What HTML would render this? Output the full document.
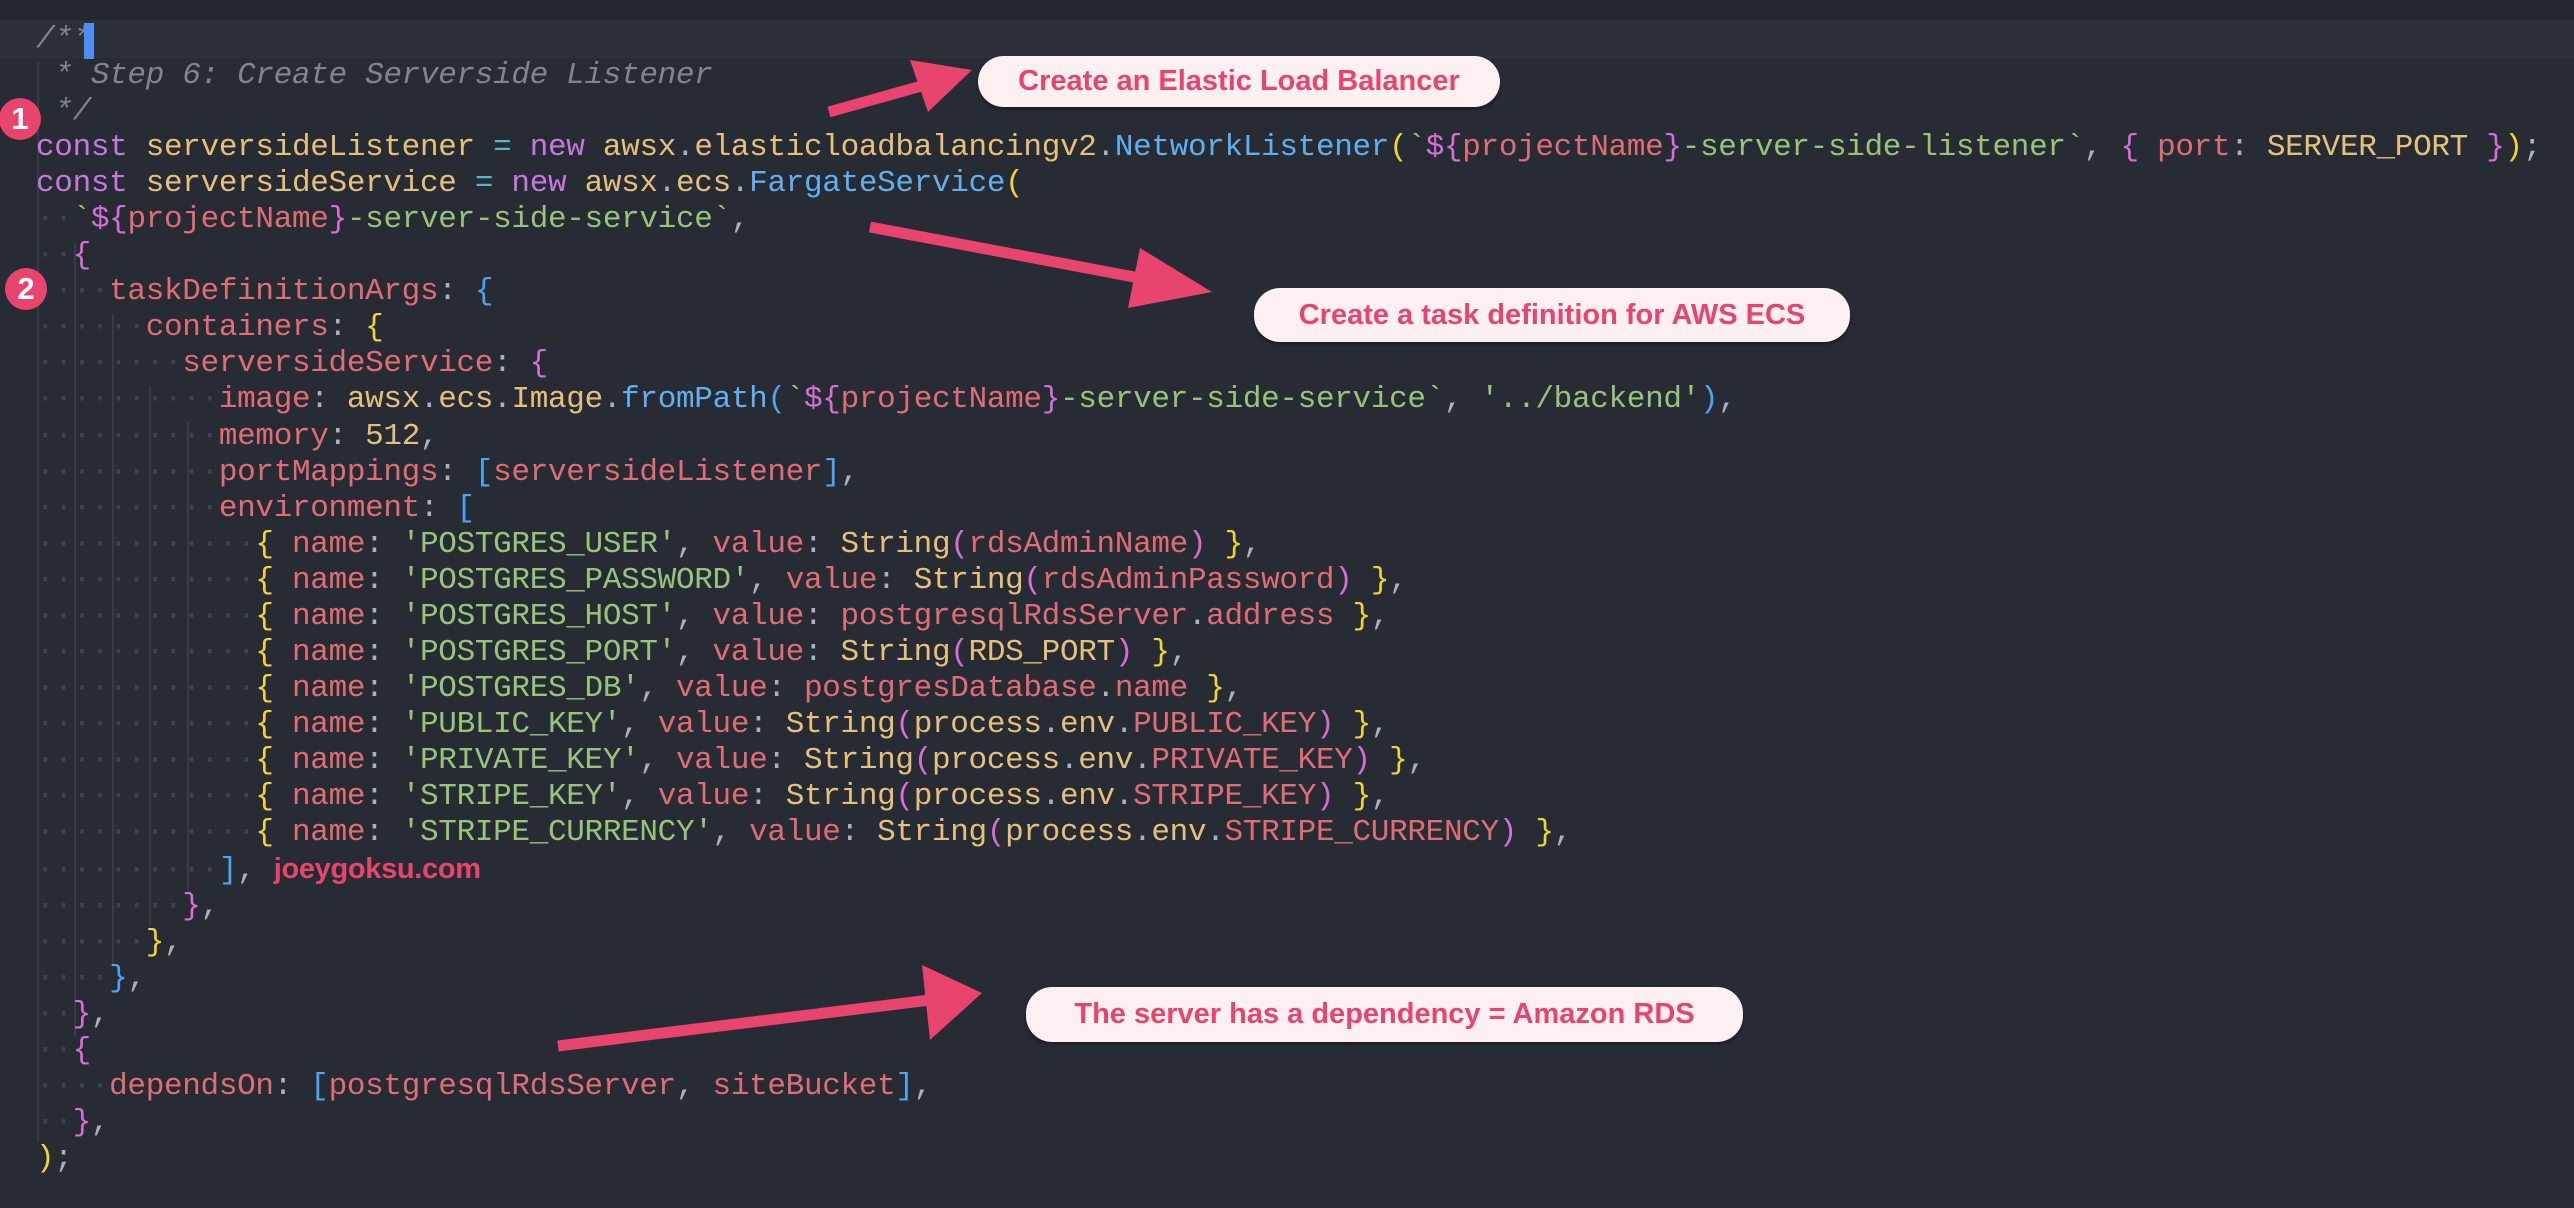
<!DOCTYPE html>
<html><head><meta charset="utf-8"><style>
html,body{margin:0;padding:0;}
body{width:2574px;height:1208px;background:#272b34;position:relative;overflow:hidden;}
.top{position:absolute;left:0;top:0;width:2574px;height:20px;background:#22262d;}
.cur{position:absolute;left:0;top:20px;width:2574px;height:38px;background:#2c3039;}
.caret{position:absolute;left:84px;top:23px;width:10px;height:36px;background:#4d8df5;}
pre{position:absolute;left:36px;top:22px;margin:0;font-family:"Liberation Mono",monospace;font-size:31px;line-height:36.05px;color:#abb2bf;letter-spacing:-0.32px;}
.k{color:#c678dd}.v{color:#e5c07b}.p{color:#e06c75}.s{color:#98c379}.f{color:#61afef}
.c{color:#7f848e;font-style:italic}.o{color:#56b6c2}.d{color:#3d424b}
.y{color:#f3d33a}.m{color:#d56fd6}.b{color:#4ea4f0}
.wm{font-family:"Liberation Sans",sans-serif;font-weight:bold;color:#e8446e;font-size:29px;}
.g{position:absolute;width:2px;background:#363b44;}
.call{position:absolute;background:#fdf0f3;border-radius:26px;color:#e8446e;font-family:"Liberation Sans",sans-serif;font-weight:bold;font-size:29px;text-align:center;box-shadow:0 2px 3px rgba(0,0,0,.4);}
.num{position:absolute;width:42px;height:42px;border-radius:50%;background:#e8446e;color:#fff;font-family:"Liberation Sans",sans-serif;font-weight:bold;font-size:31px;text-align:center;line-height:42px;}
</style></head><body>
<div class="top"></div>
<div class="cur"></div>
<div class="g" style="left:37px;top:62px;height:1080px"></div>
<div class="g" style="left:74px;top:242px;height:795px"></div>
<div class="g" style="left:112px;top:314px;height:650px"></div>
<div class="g" style="left:149px;top:386px;height:540px"></div>
<div class="g" style="left:187px;top:422px;height:470px"></div>
<pre><span class="c">/**</span>
<span class="c"> * Step 6: Create Serverside Listener</span>
<span class="c"> */</span>
<span class="k">const</span> <span class="v">serversideListener</span> <span class="o">=</span> <span class="k">new</span> <span class="v">awsx</span>.<span class="v">elasticloadbalancingv2</span>.<span class="f">NetworkListener</span><span class="y">(</span><span class="s">`</span><span class="m">${</span><span class="p">projectName</span><span class="m">}</span><span class="s">-server-side-listener`</span>, <span class="m">{</span> <span class="p">port</span>: <span class="v">SERVER_PORT</span> <span class="m">}</span><span class="y">)</span>;
<span class="k">const</span> <span class="v">serversideService</span> <span class="o">=</span> <span class="k">new</span> <span class="v">awsx</span>.<span class="v">ecs</span>.<span class="f">FargateService</span><span class="y">(</span>
<span class="d">··</span><span class="s">`</span><span class="m">${</span><span class="p">projectName</span><span class="m">}</span><span class="s">-server-side-service`</span>,
<span class="d">··</span><span class="m">{</span>
<span class="d">····</span><span class="p">taskDefinitionArgs</span>: <span class="b">{</span>
<span class="d">······</span><span class="p">containers</span>: <span class="y">{</span>
<span class="d">········</span><span class="p">serversideService</span>: <span class="m">{</span>
<span class="d">··········</span><span class="p">image</span>: <span class="v">awsx</span>.<span class="v">ecs</span>.<span class="v">Image</span>.<span class="f">fromPath</span><span class="b">(</span><span class="s">`</span><span class="m">${</span><span class="p">projectName</span><span class="m">}</span><span class="s">-server-side-service`</span>, <span class="s">'../backend'</span><span class="b">)</span>,
<span class="d">··········</span><span class="p">memory</span>: <span class="v">512</span>,
<span class="d">··········</span><span class="p">portMappings</span>: <span class="b">[</span><span class="p">serversideListener</span><span class="b">]</span>,
<span class="d">··········</span><span class="p">environment</span>: <span class="b">[</span>
<span class="d">············</span><span class="y">{</span> <span class="p">name</span>: <span class="s">'POSTGRES_USER'</span>, <span class="p">value</span>: <span class="v">String</span><span class="m">(</span><span class="p">rdsAdminName</span><span class="m">)</span> <span class="y">}</span>,
<span class="d">············</span><span class="y">{</span> <span class="p">name</span>: <span class="s">'POSTGRES_PASSWORD'</span>, <span class="p">value</span>: <span class="v">String</span><span class="m">(</span><span class="p">rdsAdminPassword</span><span class="m">)</span> <span class="y">}</span>,
<span class="d">············</span><span class="y">{</span> <span class="p">name</span>: <span class="s">'POSTGRES_HOST'</span>, <span class="p">value</span>: <span class="p">postgresqlRdsServer</span>.<span class="p">address</span> <span class="y">}</span>,
<span class="d">············</span><span class="y">{</span> <span class="p">name</span>: <span class="s">'POSTGRES_PORT'</span>, <span class="p">value</span>: <span class="v">String</span><span class="m">(</span><span class="v">RDS_PORT</span><span class="m">)</span> <span class="y">}</span>,
<span class="d">············</span><span class="y">{</span> <span class="p">name</span>: <span class="s">'POSTGRES_DB'</span>, <span class="p">value</span>: <span class="p">postgresDatabase</span>.<span class="p">name</span> <span class="y">}</span>,
<span class="d">············</span><span class="y">{</span> <span class="p">name</span>: <span class="s">'PUBLIC_KEY'</span>, <span class="p">value</span>: <span class="v">String</span><span class="m">(</span><span class="v">process</span>.<span class="v">env</span>.<span class="p">PUBLIC_KEY</span><span class="m">)</span> <span class="y">}</span>,
<span class="d">············</span><span class="y">{</span> <span class="p">name</span>: <span class="s">'PRIVATE_KEY'</span>, <span class="p">value</span>: <span class="v">String</span><span class="m">(</span><span class="v">process</span>.<span class="v">env</span>.<span class="p">PRIVATE_KEY</span><span class="m">)</span> <span class="y">}</span>,
<span class="d">············</span><span class="y">{</span> <span class="p">name</span>: <span class="s">'STRIPE_KEY'</span>, <span class="p">value</span>: <span class="v">String</span><span class="m">(</span><span class="v">process</span>.<span class="v">env</span>.<span class="p">STRIPE_KEY</span><span class="m">)</span> <span class="y">}</span>,
<span class="d">············</span><span class="y">{</span> <span class="p">name</span>: <span class="s">'STRIPE_CURRENCY'</span>, <span class="p">value</span>: <span class="v">String</span><span class="m">(</span><span class="v">process</span>.<span class="v">env</span>.<span class="p">STRIPE_CURRENCY</span><span class="m">)</span> <span class="y">}</span>,
<span class="d">··········</span><span class="b">]</span>, <span class="wm">joeygoksu.com</span>
<span class="d">········</span><span class="m">}</span>,
<span class="d">······</span><span class="y">}</span>,
<span class="d">····</span><span class="b">}</span>,
<span class="d">··</span><span class="m">}</span>,
<span class="d">··</span><span class="m">{</span>
<span class="d">····</span><span class="p">dependsOn</span>: <span class="b">[</span><span class="p">postgresqlRdsServer</span>, <span class="p">siteBucket</span><span class="b">]</span>,
<span class="d">··</span><span class="m">}</span>,
<span class="y">)</span>;</pre>
<div class="caret"></div>
<div class="num" style="left:-1px;top:98px;">1</div>
<div class="num" style="left:5px;top:268px;">2</div>
<svg width="2574" height="1208" style="position:absolute;left:0;top:0" fill="#e8446e" stroke="#e8446e">
<line x1="829" y1="112" x2="925" y2="85" stroke-width="11"/>
<polygon points="972,70 910,60 928,112" stroke="none"/>
<line x1="870" y1="227" x2="1150" y2="280" stroke-width="11"/>
<polygon points="1212,292 1140,248 1128,308" stroke="none"/>
<line x1="558" y1="1046" x2="930" y2="1000" stroke-width="11"/>
<polygon points="982,993 922,965 930,1040" stroke="none"/>
</svg>
<div class="call" style="left:978px;top:56px;width:522px;height:51px;line-height:51px;">Create an Elastic Load Balancer</div>
<div class="call" style="left:1254px;top:288px;width:596px;height:54px;line-height:54px;">Create a task definition for AWS ECS</div>
<div class="call" style="left:1026px;top:987px;width:717px;height:55px;line-height:55px;">The server has a dependency = Amazon RDS</div>
</body></html>
